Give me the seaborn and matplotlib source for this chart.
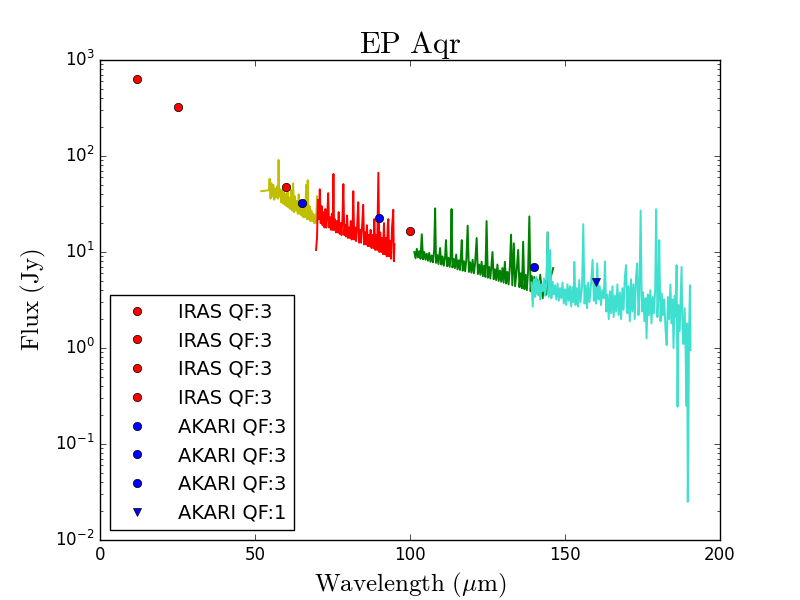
import numpy as np
import matplotlib
matplotlib.use("Agg")
import matplotlib.pyplot as plt
import seaborn as sns
import pandas as pd

# PACS spectrum pieces (wavelength in micron, flux in Jy)
b2a_wl = [52.0, 54.5, 54.7, 55.0, 55.3, 55.6, 55.9, 56.2, 56.5, 56.8, 57.1, 57.4, 57.6, 57.8,
          58.1, 58.4, 58.7, 59.0, 59.3, 59.6, 59.9, 60.2, 60.5, 60.8, 61.1, 61.4, 61.7, 62.0,
          62.3, 62.6, 62.9, 63.2, 63.5, 63.8, 64.1, 64.4, 64.7, 65.0, 65.3, 65.6, 65.9, 66.2,
          66.5, 66.8, 67.0, 67.3, 67.6, 67.9, 68.2, 68.5, 68.8, 69.1, 69.4, 69.7, 70.0]
b2a_fl = [43, 44, 58, 36, 52, 38, 50, 35, 46, 37, 48, 36, 91, 38,
          45, 33, 44, 32, 47, 31, 40, 30, 42, 29, 37, 28, 44, 27,
          52, 26, 38, 27, 34, 25, 40, 25, 33, 24, 30, 23, 35, 23,
          50, 22, 56, 22, 30, 21, 27, 21, 25, 20, 24, 20, 38]

b2b_wl = [69.7, 70.0, 70.3, 70.6, 70.9, 71.2, 71.5, 71.8, 72.1, 72.4, 72.7, 73.0, 73.3, 73.6,
          73.9, 74.2, 74.5, 74.8, 75.1, 75.3, 75.5, 75.8, 76.1, 76.4, 76.7, 77.0, 77.3, 77.6,
          77.9, 78.2, 78.5, 78.8, 79.1, 79.4, 79.7, 80.0, 80.3, 80.6, 80.9, 81.2, 81.5, 81.7,
          82.0, 82.3, 82.6, 82.9, 83.3, 83.6, 83.9, 84.2, 84.6, 84.9, 85.2, 85.5, 85.8, 86.1,
          86.4, 86.7, 87.0, 87.3, 87.6, 87.9, 88.2, 88.5, 88.8, 89.1, 89.4, 89.8, 90.1, 90.4,
          90.7, 91.0, 91.3, 91.6, 91.9, 92.2, 92.5, 92.8, 93.0, 93.3, 93.6, 93.9, 94.2, 94.6,
          94.8, 95.0]
b2b_fl = [10.5, 14, 35, 22, 45, 20, 30, 19, 26, 18, 28, 18, 24, 41,
          18, 23, 17, 25, 17, 65, 17, 22, 16, 21, 16, 26, 15.5, 20,
          15, 22, 51, 15, 19, 14.5, 24, 14, 18, 14, 21, 13.5, 19, 43,
          13.5, 18, 13, 17, 33, 12.5, 17, 12.5, 20, 31, 12, 16, 12, 19,
          11.5, 15, 11.5, 17, 11, 15, 11, 22, 10.5, 15, 10.5, 67, 10, 16,
          10, 14, 9.5, 20, 9.5, 14, 9, 18, 22, 9, 13, 8.5, 18, 27.5,
          8, 12]

r1a_wl = [101.4, 101.8, 102.2, 102.6, 103.0, 103.4, 103.8, 104.2, 104.6, 105.0, 105.4, 105.8,
          106.2, 106.6, 107.0, 107.4, 107.8, 108.1, 108.4, 108.8, 109.2, 109.7, 110.1, 110.5,
          110.9, 111.3, 111.6, 112.0, 112.4, 112.8, 113.1, 113.4, 113.7, 114.1, 114.5, 114.9,
          115.3, 115.7, 116.1, 116.4, 116.7, 117.0, 117.4, 117.8, 118.2, 118.6, 119.0, 119.4,
          119.8, 120.2, 120.6, 121.0, 121.5, 121.9, 122.3, 122.7, 123.1, 123.5, 123.9, 124.3,
          124.7, 125.1, 125.5, 125.9, 126.2, 126.6, 127.0, 127.4, 127.8, 128.2, 128.6, 129.0,
          129.4, 129.8, 130.2, 130.6, 131.0, 131.4, 131.8, 132.2, 132.6, 133.0, 133.5, 133.9,
          134.4, 134.9, 135.3, 135.7, 136.1, 136.5, 136.9, 137.3, 137.7, 138.1, 138.5, 138.9,
          139.3, 139.7, 140.1, 140.5, 141.0, 141.5, 142.0, 142.8, 143.4, 144.0, 144.4, 144.8,
          145.4, 146.2]
r1a_fl = [10, 8.6, 10.8, 8.8, 10.2, 8.5, 15.3, 8.4, 10, 8.3, 9.6, 8.1,
          9.8, 7.9, 9.2, 7.8, 10.5, 28.5, 7.7, 9.3, 7.5, 11, 7.4, 9,
          7.2, 8.8, 13.3, 7.1, 8.7, 7, 9, 28, 6.9, 8.5, 6.8, 9.4,
          6.6, 8.2, 6.5, 9, 13.3, 6.4, 8, 6.3, 8.6, 18.8, 6.2, 7.8,
          6.1, 8.3, 6, 7.6, 14, 5.9, 7.4, 5.8, 7.9, 5.6, 7.2, 5.5,
          21, 5.4, 7, 5.3, 6.8, 10, 5.2, 6.6, 5.1, 7.4, 5, 6.4,
          4.9, 6.8, 4.8, 7.9, 4.7, 6.2, 4.6, 6.9, 15.2, 4.5, 12.3, 4.4,
          6.4, 10.5, 4.3, 6, 4.2, 12.8, 4.1, 5.8, 4, 6.5, 23.5, 3.9,
          5.6, 3.8, 5.5, 3.7, 5.2, 3.6, 5.8, 3.3, 5, 3.6, 16, 3.8,
          5.5, 6.8]

r1b_wl = [139.2, 139.6, 140.0, 140.4, 140.8, 141.2, 141.6, 142.0, 142.4, 142.8, 143.2, 143.6,
          144.0, 144.4, 144.8, 145.2, 145.6, 146.0, 146.4, 146.8, 147.2, 147.6, 148.0, 148.4,
          148.8, 149.2, 149.6, 150.0, 150.4, 150.8, 151.2, 151.6, 152.0, 152.4, 152.8, 153.0,
          153.4, 153.8, 154.2, 154.6, 155.0, 155.5, 155.9, 156.3, 156.7, 157.1, 157.5, 157.9,
          158.3, 158.9, 159.3, 159.7, 160.0, 160.4, 160.8, 161.2, 161.6, 162.0, 162.5, 162.9,
          163.3, 163.7, 164.1, 164.5, 164.9, 165.3, 165.7, 166.1, 166.5, 166.9, 167.3, 167.7,
          168.1, 168.5, 168.9, 169.3, 169.7, 170.1, 170.5, 170.9, 171.3, 171.7, 172.1, 172.5,
          172.9, 173.3, 173.7, 174.0, 174.4, 174.8, 175.2, 175.6, 176.0, 176.3, 176.7, 177.1,
          177.5, 177.9, 178.3, 178.7, 179.1, 179.4, 179.8, 180.1, 180.4, 180.8, 181.2, 181.6,
          182.0, 182.4, 182.8, 183.2, 183.6, 184.0, 184.4, 184.7, 185.0, 185.4, 185.7, 186.0,
          186.3, 186.6, 187.0, 187.3, 187.6, 187.9, 188.2, 188.6, 188.9, 189.2, 189.4, 189.6,
          189.8, 190.0, 190.3, 190.5]
r1b_fl = [4.8, 2.7, 5.2, 3.4, 5.5, 3.6, 5, 3.2, 4.6, 3.9, 5.3, 3.5,
          4.8, 16, 3.4, 10.5, 3.3, 4.9, 3.6, 4.5, 3.2, 4.7, 3.1, 4.2,
          3.3, 4.8, 2.9, 4.1, 2.8, 4.6, 3.1, 4.4, 2.7, 4.3, 3, 7.9,
          2.8, 4.2, 2.7, 5.1, 3, 4.3, 19.5, 2.9, 4.5, 2.6, 4.8, 3,
          4.2, 8.3, 3.1, 4.9, 2.9, 7.6, 3.2, 4.4, 2.8, 4, 3.3, 8,
          2.4, 3.6, 2, 3.9, 2.3, 4.4, 2.1, 3.5, 2.4, 4.6, 2.2, 3.8,
          2, 4.2, 2.5, 5.5, 7.3, 2.3, 4.4, 1.9, 5.2, 2.4, 4.6, 2,
          5.5, 7.6, 2.2, 3.5, 27, 2.4, 3.8, 1.9, 3.3, 1.26, 3.6, 2.2,
          4, 1.8, 3.4, 2.3, 4.2, 27.9, 2.1, 3.5, 13.3, 1.9, 3.7, 2.2,
          3.2, 1.6, 1.07, 3.4, 2, 4.6, 1.8, 3.2, 1.0, 3.5, 2.1, 7.3,
          0.245, 2.8, 1.5, 3.3, 7, 1.6, 1.1, 2.6, 0.9, 0.25, 1.8, 0.025,
          0.11, 1.3, 4.5, 0.95]

# photometry
iras_wl = [12, 25, 60, 100]
iras_fl = [630, 325, 47.5, 16.5]
akari_wl = [65, 90, 140, 160]
akari_fl = [32.5, 22.6, 7.0, 4.9]
akari_qf = [3, 3, 3, 1]

plt.style.use('classic')
plt.rcParams['figure.facecolor'] = 'white'
plt.rcParams['savefig.facecolor'] = 'white'

fig, ax = plt.subplots(figsize=(8, 6), dpi=100)

spectra = [(b2a_wl, b2a_fl, 'y'), (b2b_wl, b2b_fl, 'r'),
           (r1a_wl, r1a_fl, 'g'), (r1b_wl, r1b_fl, 'turquoise')]
for wl, fl, col in spectra:
    d = pd.DataFrame({'wl': wl, 'flux': fl})
    sns.lineplot(data=d, x='wl', y='flux', color=col, linewidth=1.4,
                 estimator=None, sort=False, ax=ax, legend=False)

for w, f in zip(iras_wl, iras_fl):
    ax.plot(w, f, 'o', color='r', markersize=6, markeredgecolor='k',
            markeredgewidth=0.5, label='IRAS QF:3')
for w, f, q in zip(akari_wl, akari_fl, akari_qf):
    mk = 'o' if q == 3 else 'v'
    ax.plot(w, f, mk, color='b', markersize=6, markeredgecolor='k',
            markeredgewidth=0.5, label='AKARI QF:%d' % q)

ax.set_yscale('log')
ax.set_xlim(0, 200)
ax.set_ylim(1e-2, 1e3)
ax.set_title(r'$\mathrm{EP\ Aqr}$', fontsize=22)
ax.set_xlabel(r'$\mathrm{Wavelength\ (}\mu\mathrm{m)}$', fontsize=18)
ax.set_ylabel(r'$\mathrm{Flux\ (Jy)}$', fontsize=18)
ax.legend(loc='lower left', numpoints=1, fontsize=14, handletextpad=1.1)

plt.savefig('out.png', dpi=100)
